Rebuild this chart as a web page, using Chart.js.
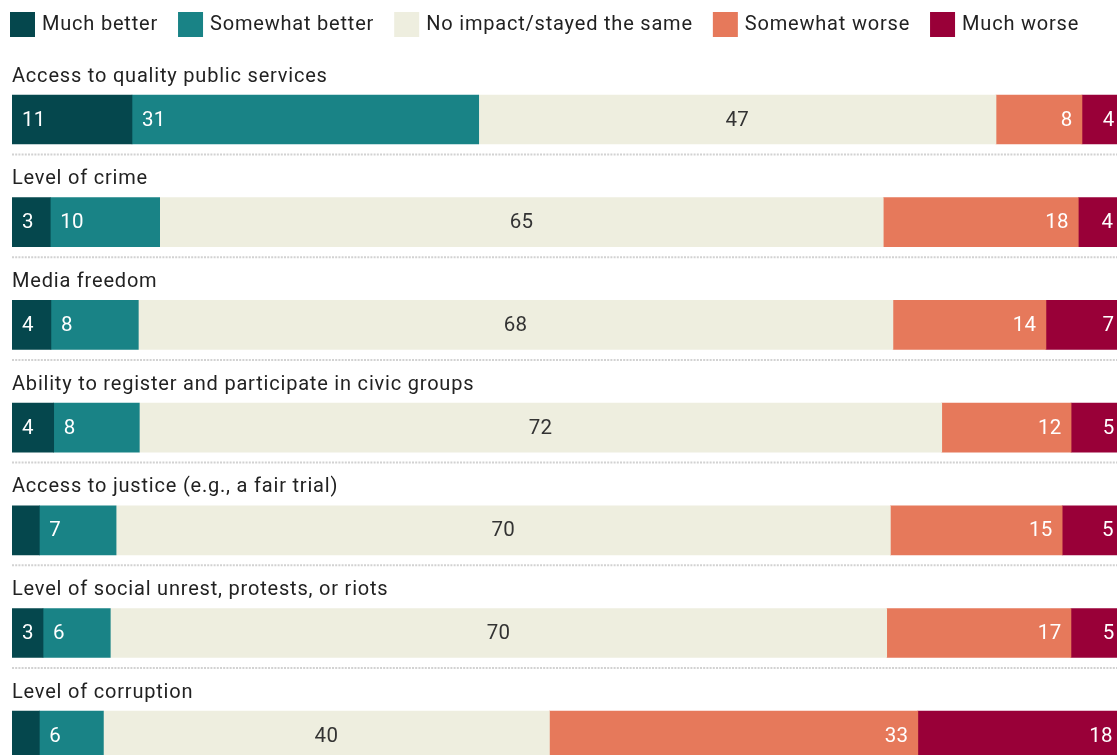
<!DOCTYPE html>
<html><head><meta charset="utf-8">
<script src="https://cdn.jsdelivr.net/npm/chart.js@4.4.1/dist/chart.umd.min.js"></script>
<style>
html,body{margin:0;padding:0;background:#fff;overflow:hidden;width:1117px;height:755px}
#wrap{position:absolute;left:0;top:0;width:1124px;height:790px}
</style></head><body>
<div id="wrap"><canvas id="c" width="1124" height="790"></canvas></div>
<script>
const categories = [
  "Access to quality public services",
  "Level of crime",
  "Media freedom",
  "Ability to register and participate in civic groups",
  "Access to justice (e.g., a fair trial)",
  "Level of social unrest, protests, or riots",
  "Level of corruption"
];
const seriesNames = ["Much better","Somewhat better","No impact/stayed the same","Somewhat worse","Much worse"];
const seriesColors = ["#05474d","#198386","#eeeedf","#e6795b","#990038"];
const muchBetter     = [10.79, 3.44, 3.5, 3.75, 2.46, 2.79, 2.46];
const somewhatBetter = [31.18, 9.84, 7.86, 7.70, 6.90, 6.05, 5.76];
const noImpact       = [46.52, 65.07, 67.86, 72.16, 69.63, 69.82, 40.11];
const somewhatWorse  = [7.73, 17.54, 13.76, 11.63, 15.45, 16.57, 33.13];
const muchWorse      = [4, 4, 7, 5, 5.49, 5, 18.4];
const seriesValues = [muchBetter, somewhatBetter, noImpact, somewhatWorse, muchWorse];

const FONT = 'Roboto, "Noto Sans", sans-serif';

const legendPlugin = {
  id: 'customLegend',
  afterDraw(chart) {
    const ctx = chart.ctx;
    ctx.save();
    ctx.font = '20px ' + FONT;
    ctx.letterSpacing = '0.8px';
    ctx.textBaseline = 'alphabetic';
    ctx.textAlign = 'left';
    let x = 10;
    chart.data.datasets.forEach(ds => {
      ctx.fillStyle = ds.backgroundColor;
      ctx.fillRect(x, 12, 25, 25);
      ctx.fillStyle = '#222';
      ctx.fillText(ds.label, x + 32, 30);
      x += 32 + ctx.measureText(ds.label).width + 20;
    });
    ctx.restore();
  }
};

const rowPlugin = {
  id: 'rowLabels',
  afterDatasetsDraw(chart) {
    const ctx = chart.ctx;
    const meta = chart.getDatasetMeta(0);
    const area = chart.chartArea;
    ctx.save();
    ctx.font = '20px ' + FONT;
    ctx.letterSpacing = '0.8px';
    ctx.fillStyle = '#222';
    ctx.textBaseline = 'alphabetic';
    ctx.textAlign = 'left';
    meta.data.forEach((bar, i) => {
      ctx.fillText(chart.data.labels[i], area.left, bar.y - 38);
      if (i < meta.data.length - 1) {
        ctx.save();
        ctx.strokeStyle = '#d2d2d2';
        ctx.lineWidth = 2;
        ctx.setLineDash([2, 1.2]);
        ctx.beginPath();
        ctx.moveTo(area.left, bar.y + 35);
        ctx.lineTo(chart.width, bar.y + 35);
        ctx.stroke();
        ctx.restore();
      }
    });
    ctx.restore();
  }
};

const valuePlugin = {
  id: 'valueLabels',
  afterDatasetsDraw(chart) {
    const ctx = chart.ctx;
    const area = chart.chartArea;
    ctx.save();
    ctx.font = '20.5px ' + FONT;
    ctx.letterSpacing = '0.3px';
    ctx.textBaseline = 'middle';
    chart.data.datasets.forEach((ds, d) => {
      const meta = chart.getDatasetMeta(d);
      meta.data.forEach((el, i) => {
        const v = ds.data[i];
        if (v < 2.5) return;
        const left = Math.min(el.base, el.x);
        const right = Math.min(Math.max(el.base, el.x), area.right);
        const txt = String(Math.round(v));
        ctx.fillStyle = d === 2 ? '#333' : '#fff';
        let tx;
        if (d <= 1) { ctx.textAlign = 'left'; tx = left + 10; }
        else if (d === 2) { ctx.textAlign = 'center'; tx = (left + right) / 2; }
        else { ctx.textAlign = 'right'; tx = right - 9.5; }
        ctx.fillText(txt, tx, el.y + 1);
      });
    });
    ctx.restore();
  }
};

new Chart(document.getElementById('c'), {
  type: 'bar',
  data: {
    labels: categories,
    datasets: seriesNames.map((name, k) => ({
      label: name,
      data: seriesValues[k],
      backgroundColor: seriesColors[k],
      borderWidth: 0,
      barThickness: 49
    }))
  },
  options: {
    indexAxis: 'y',
    responsive: false,
    animation: false,
    layout: { padding: { left: 12, right: 0, top: 68.15, bottom: 2.95 } },
    scales: {
      x: { stacked: true, min: 0, max: 100, display: false },
      y: { stacked: true, display: false }
    },
    plugins: { legend: { display: false }, tooltip: { enabled: false } }
  },
  plugins: [legendPlugin, rowPlugin, valuePlugin]
});
</script>
</body></html>
